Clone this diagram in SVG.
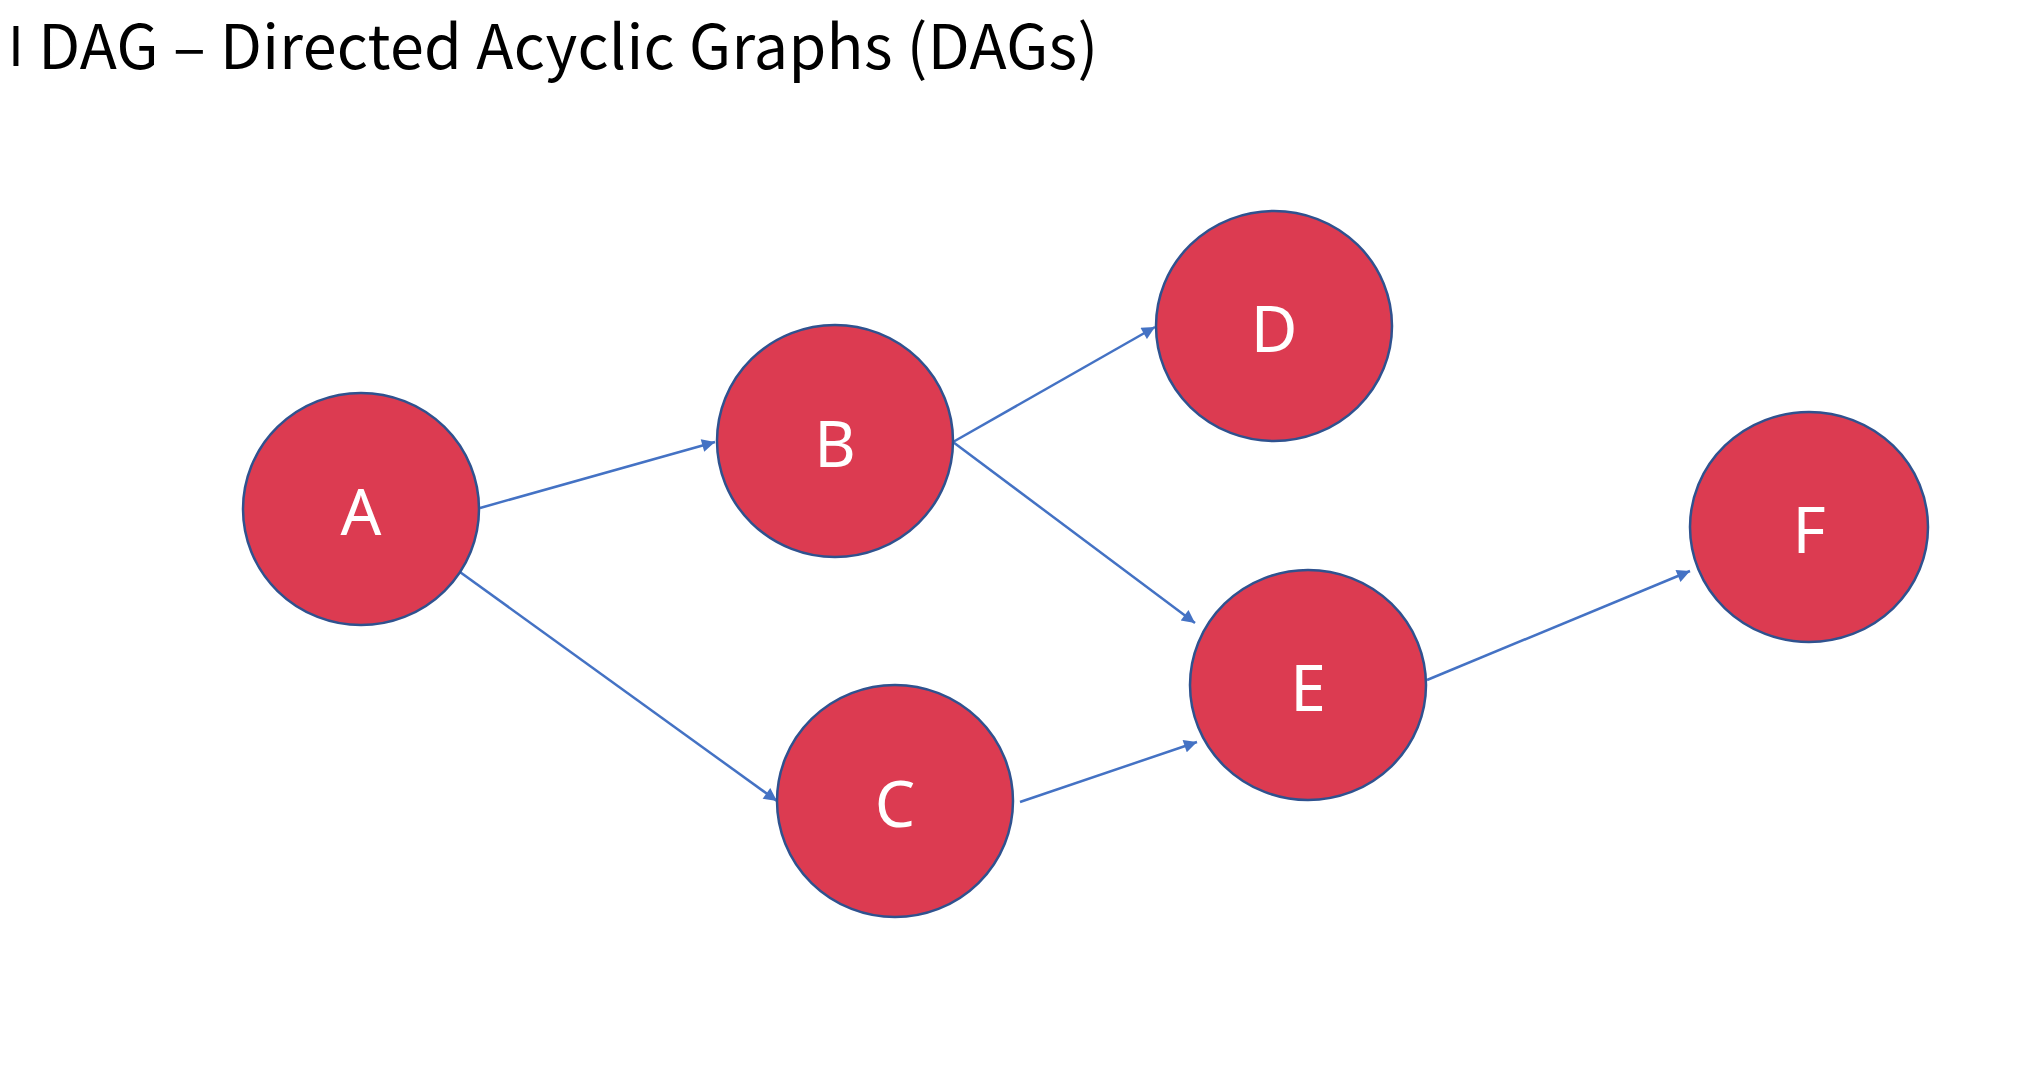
<svg xmlns="http://www.w3.org/2000/svg" width="2030" height="1070" viewBox="0 0 2030 1070">
<style>
.node ellipse{fill:#DC3B51;stroke:#2F528F;stroke-width:2.5}
.node text{fill:#fff;font-family:"Noto Sans","Noto Sans CJK KR",sans-serif;font-size:64px;text-anchor:middle}
.edge{stroke:#4472C4;stroke-width:2.5;fill:none;marker-end:url(#arr)}
.title{font-family:"Noto Sans CJK KR","Noto Sans",sans-serif;font-size:61px;fill:#000}
</style>
<defs>
<marker id="arr" viewBox="0 0 10 10" refX="10" refY="5" markerWidth="6" markerHeight="5.2" markerUnits="strokeWidth" orient="auto">
<path d="M0,0 L10,5 L0,10 Z" fill="#4472C4"/>
</marker>
</defs>
<rect width="2030" height="1070" fill="#fff"/>
<text class="title" x="8" y="69" textLength="1090" lengthAdjust="spacing"><tspan font-size="54" y="66">I</tspan><tspan y="69"> DAG – Directed Acyclic Graphs (DAGs)</tspan></text>
<g id="connectors">
<line class="edge" x1="480" y1="508" x2="715" y2="442"/>
<line class="edge" x1="453" y1="567" x2="777" y2="801"/>
<line class="edge" x1="953" y1="442" x2="1155" y2="327"/>
<line class="edge" x1="953" y1="442" x2="1195" y2="623"/>
<line class="edge" x1="1020" y1="802" x2="1197" y2="742"/>
<line class="edge" x1="1427" y1="680" x2="1690" y2="571"/>
</g>
<g id="node-A" class="node"><ellipse cx="361" cy="509" rx="118" ry="116"/><text x="361" y="535">A</text></g>
<g id="node-B" class="node"><ellipse cx="835" cy="441" rx="118" ry="116"/><text x="835" y="467">B</text></g>
<g id="node-C" class="node"><ellipse cx="895" cy="801" rx="118" ry="116"/><text x="895" y="827">C</text></g>
<g id="node-D" class="node"><ellipse cx="1274" cy="326" rx="118" ry="115"/><text x="1274" y="352">D</text></g>
<g id="node-E" class="node"><ellipse cx="1308" cy="685" rx="118" ry="115"/><text x="1308" y="711">E</text></g>
<g id="node-F" class="node"><ellipse cx="1809" cy="527" rx="119" ry="115"/><text x="1809" y="553">F</text></g>
</svg>
